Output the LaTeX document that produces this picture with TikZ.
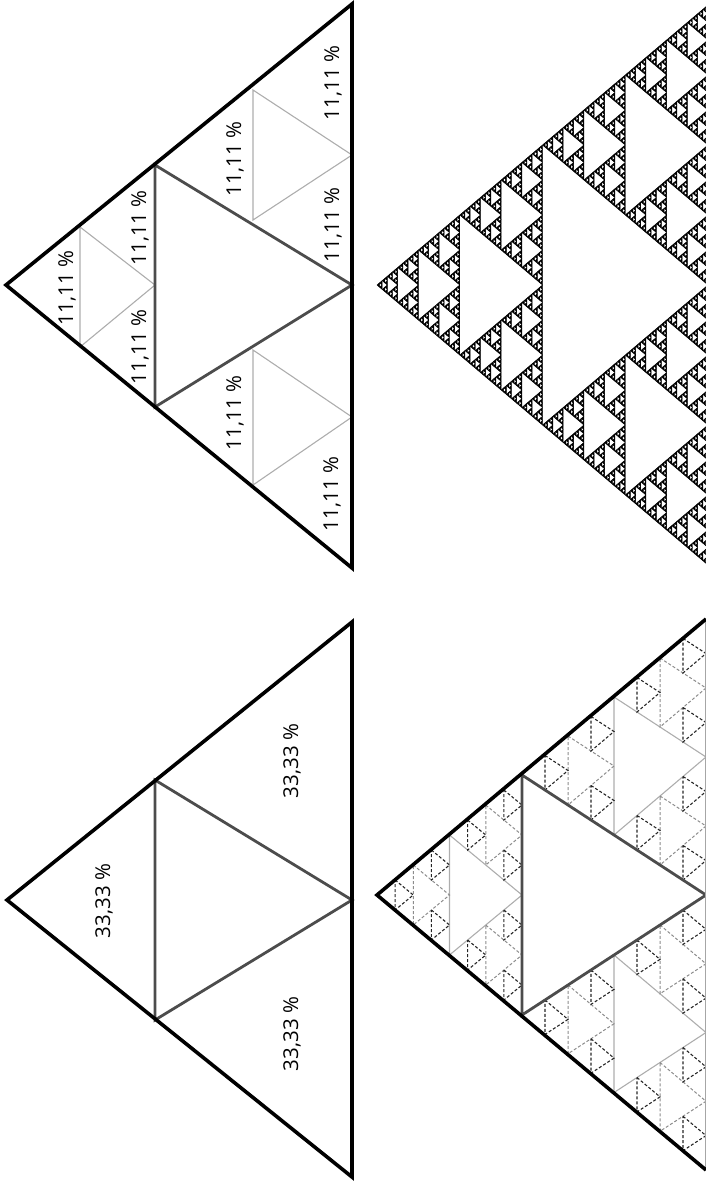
\documentclass[tikz,border=0pt]{standalone}
\usepackage{fontspec}
\setmainfont{Open Sans}
\tikzset{
  outer/.style={line width=3.6pt, black, line join=miter},
  lvone/.style={line width=2.8pt, black!70, line join=miter},
  lvtwo/.style={line width=1.1pt, black!32},
  lvthree/.style={line width=1.0pt, black!45, dash pattern=on 3pt off 2pt},
  lvfour/.style={line width=1.1pt, black!85, dash pattern=on 3pt off 2pt},
  basethin/.style={line width=0.8pt, black!35},
  fractri/.style={fill=black, draw=black, line width=0.45pt, line join=round},
  pct/.style={rotate=90, inner sep=0pt, font=\fontsize{20.5}{24}\selectfont},
}
% recursive filled Sierpinski triangle
\def\sfFill#1#2#3#4#5#6#7{%
  \ifnum#1=0\relax
    \path[fractri] (#2,#3)--(#4,#5)--(#6,#7)--cycle;
  \else
    \begingroup
    \pgfmathsetmacro\sfAx{(#2+#4)/2}\pgfmathsetmacro\sfAy{(#3+#5)/2}%
    \pgfmathsetmacro\sfBx{(#4+#6)/2}\pgfmathsetmacro\sfBy{(#5+#7)/2}%
    \pgfmathsetmacro\sfCx{(#2+#6)/2}\pgfmathsetmacro\sfCy{(#3+#7)/2}%
    \edef\sfNext{%
      \noexpand\sfFill{\the\numexpr#1-1\relax}{#2}{#3}{\sfAx}{\sfAy}{\sfCx}{\sfCy}%
      \noexpand\sfFill{\the\numexpr#1-1\relax}{\sfAx}{\sfAy}{#4}{#5}{\sfBx}{\sfBy}%
      \noexpand\sfFill{\the\numexpr#1-1\relax}{\sfCx}{\sfCy}{\sfBx}{\sfBy}{#6}{#7}}%
    \sfNext
    \endgroup
  \fi}
% recursive middle triangles (levels 2..4)
\def\sfMid#1#2#3#4#5#6#7{%
  \begingroup
  \pgfmathsetmacro\sfAx{(#2+#4)/2}\pgfmathsetmacro\sfAy{(#3+#5)/2}%
  \pgfmathsetmacro\sfBx{(#4+#6)/2}\pgfmathsetmacro\sfBy{(#5+#7)/2}%
  \pgfmathsetmacro\sfCx{(#2+#6)/2}\pgfmathsetmacro\sfCy{(#3+#7)/2}%
  \ifcase#1\relax\or\or\def\sfSty{lvtwo}\or\def\sfSty{lvthree}\else\def\sfSty{lvfour}\fi
  \draw[\sfSty] (\sfAx,\sfAy)--(\sfBx,\sfBy)--(\sfCx,\sfCy)--cycle;
  \ifnum#1<4\relax
    \edef\sfNext{%
      \noexpand\sfMid{\the\numexpr#1+1\relax}{#2}{#3}{\sfAx}{\sfAy}{\sfCx}{\sfCy}%
      \noexpand\sfMid{\the\numexpr#1+1\relax}{\sfAx}{\sfAy}{#4}{#5}{\sfBx}{\sfBy}%
      \noexpand\sfMid{\the\numexpr#1+1\relax}{\sfCx}{\sfCy}{\sfBx}{\sfBy}{#6}{#7}}%
    \sfNext
  \fi
  \endgroup}
\begin{document}
\begin{tikzpicture}[x=1pt,y=-1pt]
\useasboundingbox (0,0) rectangle (706,1181);
\clip (0,0) rectangle (706,1181);

% ---------- top-left panel ----------
\draw[lvtwo] (80,227)--(80,347)--(155,285)--cycle;
\draw[lvtwo] (253,90)--(253,220)--(352,155)--cycle;
\draw[lvtwo] (253,350)--(253,485)--(352,417)--cycle;
\draw[lvone] (155,165)--(155,407)--(352,285)--cycle;
\draw[outer] (6,285)--(352,4)--(352,568)--cycle;
\node[pct] (t1) at (333,83) {11,11 \%};
\node[pct] (t2) at (235,159) {11,11 \%};
\node[pct] (t3) at (333,225) {11,11 \%};
\node[pct] (t4) at (140,228) {11,11 \%};
\node[pct] (t5) at (67,288) {11,11 \%};
\node[pct] (t6) at (140,347) {11,11 \%};
\node[pct] (t7) at (235,413) {11,11 \%};
\node[pct] (t8) at (332,494) {11,11 \%};

% ---------- top-right panel (fractal) ----------
\sfFill{7}{377}{285}{708}{5}{708}{565}

% ---------- bottom-left panel ----------
\draw[lvone] (155,780)--(155,1020)--(352,900)--cycle;
\draw[outer] (7,900)--(352,622)--(352,1177)--cycle;
\node[pct] (b1) at (292,761) {33,33 \%};
\node[pct] (b2) at (104,901) {33,33 \%};
\node[pct] (b3) at (292,1034) {33,33 \%};

% ---------- bottom-right panel ----------
\sfMid{2}{377}{895}{522}{775}{522}{1015}
\sfMid{2}{522}{775}{706}{619}{706}{895}
\sfMid{2}{522}{1015}{706}{895}{706}{1170}
\draw[lvone] (522,775)--(522,1015)--(706,895)--cycle;
\draw[basethin] (705.5,619)--(705.5,1170);
\draw[outer] (706,619)--(377,895)--(706,1170);
\end{tikzpicture}
\end{document}
